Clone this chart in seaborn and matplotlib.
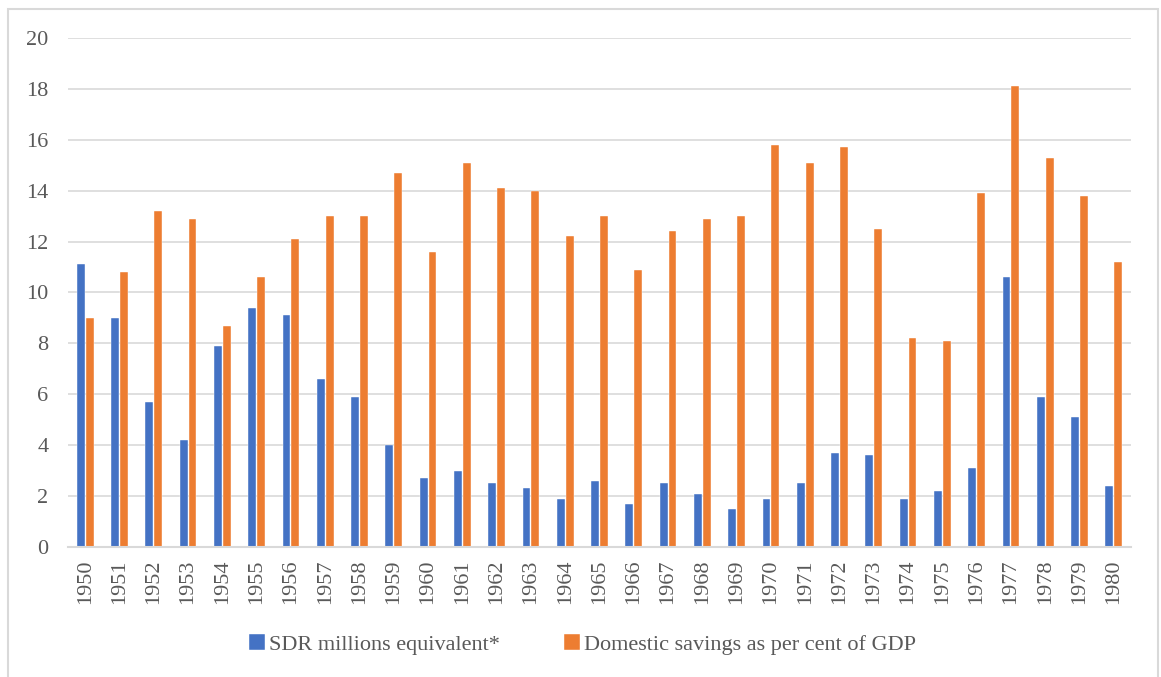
import matplotlib
matplotlib.use("Agg")
import matplotlib.pyplot as plt
from matplotlib.patches import Rectangle
import pandas as pd
import seaborn as sns

years = [str(y) for y in range(1950, 1981)]
sdr_millions = [11.1, 9.0, 5.7, 4.2, 7.9, 9.4, 9.1, 6.6, 5.9, 4.0,
                2.7, 3.0, 2.5, 2.3, 1.9, 2.6, 1.7, 2.5, 2.1, 1.5,
                1.9, 2.5, 3.7, 3.6, 1.9, 2.2, 3.1, 10.6, 5.9, 5.1, 2.4]
domestic_savings = [9.0, 10.8, 13.2, 12.9, 8.7, 10.6, 12.1, 13.0, 13.0, 14.7,
                    11.6, 15.1, 14.1, 14.0, 12.2, 13.0, 10.9, 12.4, 12.9, 13.0,
                    15.8, 15.1, 15.7, 12.5, 8.2, 8.1, 13.9, 18.1, 15.3, 13.8, 11.2]
series_names = ["SDR millions equivalent*", "Domestic savings as per cent of GDP"]
y_ticks = [0, 2, 4, 6, 8, 10, 12, 14, 16, 18, 20]

df = pd.DataFrame({
    "year": years * 2,
    "value": sdr_millions + domestic_savings,
    "series": [series_names[0]] * len(years) + [series_names[1]] * len(years),
})

sns.set_theme(style="white")
plt.rcParams["font.family"] = ["Liberation Serif", "DejaVu Serif"]

fig = plt.figure(figsize=(11.61, 6.77), dpi=100)
ax = fig.add_axes([0.0586, 0.192, 0.9155, 0.752])

sns.barplot(data=df, x="year", y="value", hue="series",
            palette=["#4472C4", "#ED7D31"], width=0.52, gap=0.12,
            edgecolor="white", linewidth=0.3, saturation=1, ax=ax)

ax.set_ylim(0, 20)
ax.set_xlim(-0.5, len(years) - 0.5)
ax.set_yticks(y_ticks)
ax.set_yticklabels([str(t) for t in y_ticks])
ax.yaxis.grid(True, color="#D9D9D9", linewidth=1.2)
ax.set_axisbelow(True)
for side in ["top", "right", "left"]:
    ax.spines[side].set_visible(False)
ax.spines["bottom"].set_color("#D9D9D9")
ax.spines["bottom"].set_linewidth(1.5)
ax.set_xlabel("")
ax.set_ylabel("")
ax.tick_params(axis="x", labelrotation=90, length=0, pad=9, labelsize=16, labelcolor="#595959")
ax.tick_params(axis="y", length=0, pad=14, labelsize=16, labelcolor="#595959")

handles, labels = ax.get_legend_handles_labels()
ax.legend_.remove()
fig.legend(handles, labels, loc="center", bbox_to_anchor=(0.502, 0.048), ncol=2,
           frameon=False, fontsize=16, handlelength=0.7, handleheight=0.7,
           handletextpad=0.2, columnspacing=2.9, labelcolor="#595959")

fig.patches.append(Rectangle((8 / 1161, -0.01), 1150 / 1161, 1 - 9 / 677 + 0.01,
                             transform=fig.transFigure, fill=False,
                             edgecolor="#D9D9D9", linewidth=1.5))

fig.savefig("out.png", dpi=100)
